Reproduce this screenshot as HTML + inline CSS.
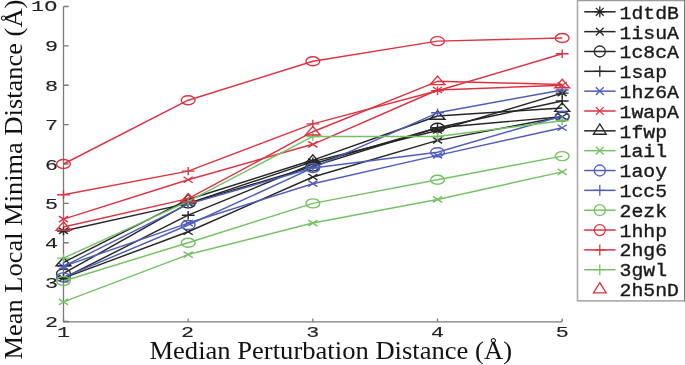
<!DOCTYPE html>
<html><head><meta charset="utf-8"><style>
html,body{margin:0;padding:0;background:#fff;width:685px;height:365px;overflow:hidden}
svg{display:block;filter:blur(0.3px)}
text{font-family:"Liberation Serif",serif}
.m{font-family:"Liberation Mono",monospace}
</style></head><body>
<svg width="685" height="365" viewBox="0 0 685 365">
<rect width="685" height="365" fill="#fff"/>

<path d="M63.5 6.5V321.8H562.2" stroke="#7a7a7a" stroke-width="1.3" fill="none"/>
<path d="M63.5 321.50H68.7M63.5 282.12H68.7M63.5 242.75H68.7M63.5 203.38H68.7M63.5 164.00H68.7M63.5 124.62H68.7M63.5 85.25H68.7M63.5 45.88H68.7M63.5 6.50H68.7M63.50 321.8V318.6M188.18 321.8V318.6M312.85 321.8V318.6M437.52 321.8V318.6M562.20 321.8V318.6" stroke="#7a7a7a" stroke-width="1.3" fill="none"/>
<text class="m" transform="translate(58.0 327.10) scale(1.42 1)" font-size="15.3" text-anchor="end" fill="#222" stroke="#222" stroke-width="0.15">2</text>
<text class="m" transform="translate(58.0 287.73) scale(1.42 1)" font-size="15.3" text-anchor="end" fill="#222" stroke="#222" stroke-width="0.15">3</text>
<text class="m" transform="translate(58.0 248.35) scale(1.42 1)" font-size="15.3" text-anchor="end" fill="#222" stroke="#222" stroke-width="0.15">4</text>
<text class="m" transform="translate(58.0 208.97) scale(1.42 1)" font-size="15.3" text-anchor="end" fill="#222" stroke="#222" stroke-width="0.15">5</text>
<text class="m" transform="translate(58.0 169.60) scale(1.42 1)" font-size="15.3" text-anchor="end" fill="#222" stroke="#222" stroke-width="0.15">6</text>
<text class="m" transform="translate(58.0 130.22) scale(1.42 1)" font-size="15.3" text-anchor="end" fill="#222" stroke="#222" stroke-width="0.15">7</text>
<text class="m" transform="translate(58.0 90.85) scale(1.42 1)" font-size="15.3" text-anchor="end" fill="#222" stroke="#222" stroke-width="0.15">8</text>
<text class="m" transform="translate(58.0 51.48) scale(1.42 1)" font-size="15.3" text-anchor="end" fill="#222" stroke="#222" stroke-width="0.15">9</text>
<text class="m" transform="translate(57.4 10.80) scale(1.42 1)" font-size="15.3" text-anchor="end" fill="#222" stroke="#222" stroke-width="0.15">1<tspan dx="0.3">O</tspan></text>
<text class="m" transform="translate(63.50 337.3) scale(1.42 1)" font-size="15.3" text-anchor="middle" fill="#222" stroke="#222" stroke-width="0.15">1</text>
<text class="m" transform="translate(187.38 337.3) scale(1.42 1)" font-size="15.3" text-anchor="middle" fill="#222" stroke="#222" stroke-width="0.15">2</text>
<text class="m" transform="translate(312.85 337.3) scale(1.42 1)" font-size="15.3" text-anchor="middle" fill="#222" stroke="#222" stroke-width="0.15">3</text>
<text class="m" transform="translate(437.52 337.3) scale(1.42 1)" font-size="15.3" text-anchor="middle" fill="#222" stroke="#222" stroke-width="0.15">4</text>
<text class="m" transform="translate(562.20 337.3) scale(1.42 1)" font-size="15.3" text-anchor="middle" fill="#222" stroke="#222" stroke-width="0.15">5</text>
<polyline points="63.50,230.94 188.18,203.38 312.85,161.64 437.52,130.53 562.20,93.12" fill="none" stroke="#262626" stroke-width="1.45" stroke-linejoin="round"/>
<path d="M58.90 227.94L68.10 233.94M58.90 233.94L68.10 227.94M57.10 230.94H69.90M63.50 226.74V235.14" stroke="#262626" stroke-width="1.4" fill="none"/>
<path d="M183.58 200.38L192.78 206.38M183.58 206.38L192.78 200.38M181.78 203.38H194.58M188.18 199.18V207.57" stroke="#262626" stroke-width="1.4" fill="none"/>
<path d="M308.25 158.64L317.45 164.64M308.25 164.64L317.45 158.64M306.45 161.64H319.25M312.85 157.44V165.84" stroke="#262626" stroke-width="1.4" fill="none"/>
<path d="M432.92 127.53L442.12 133.53M432.92 133.53L442.12 127.53M431.12 130.53H443.92M437.52 126.33V134.73" stroke="#262626" stroke-width="1.4" fill="none"/>
<path d="M557.60 90.12L566.80 96.12M557.60 96.12L566.80 90.12M555.80 93.12H568.60M562.20 88.92V97.33" stroke="#262626" stroke-width="1.4" fill="none"/>
<polyline points="63.50,278.19 188.18,231.72 312.85,176.99 437.52,140.38 562.20,116.75" fill="none" stroke="#262626" stroke-width="1.45" stroke-linejoin="round"/>
<path d="M58.90 275.19L68.10 281.19M58.90 281.19L68.10 275.19" stroke="#262626" stroke-width="1.4" fill="none"/>
<path d="M183.58 228.72L192.78 234.72M183.58 234.72L192.78 228.72" stroke="#262626" stroke-width="1.4" fill="none"/>
<path d="M308.25 173.99L317.45 179.99M308.25 179.99L317.45 173.99" stroke="#262626" stroke-width="1.4" fill="none"/>
<path d="M432.92 137.38L442.12 143.38M432.92 143.38L442.12 137.38" stroke="#262626" stroke-width="1.4" fill="none"/>
<path d="M557.60 113.75L566.80 119.75M557.60 119.75L566.80 113.75" stroke="#262626" stroke-width="1.4" fill="none"/>
<polyline points="63.50,273.46 188.18,203.38 312.85,166.36 437.52,127.78 562.20,116.75" fill="none" stroke="#262626" stroke-width="1.45" stroke-linejoin="round"/>
<ellipse cx="63.50" cy="273.46" rx="6.90" ry="4.50" fill="none" stroke="#262626" stroke-width="1.4"/>
<ellipse cx="188.18" cy="203.38" rx="6.90" ry="4.50" fill="none" stroke="#262626" stroke-width="1.4"/>
<ellipse cx="312.85" cy="166.36" rx="6.90" ry="4.50" fill="none" stroke="#262626" stroke-width="1.4"/>
<ellipse cx="437.52" cy="127.78" rx="6.90" ry="4.50" fill="none" stroke="#262626" stroke-width="1.4"/>
<ellipse cx="562.20" cy="116.75" rx="6.90" ry="4.50" fill="none" stroke="#262626" stroke-width="1.4"/>
<polyline points="63.50,278.19 188.18,215.19 312.85,164.00 437.52,127.78 562.20,101.00" fill="none" stroke="#262626" stroke-width="1.45" stroke-linejoin="round"/>
<path d="M57.10 278.19H69.90M63.50 273.99V282.39" stroke="#262626" stroke-width="1.4" fill="none"/>
<path d="M181.78 215.19H194.58M188.18 210.99V219.39" stroke="#262626" stroke-width="1.4" fill="none"/>
<path d="M306.45 164.00H319.25M312.85 159.80V168.20" stroke="#262626" stroke-width="1.4" fill="none"/>
<path d="M431.12 127.78H443.92M437.52 123.58V131.97" stroke="#262626" stroke-width="1.4" fill="none"/>
<path d="M555.80 101.00H568.60M562.20 96.80V105.20" stroke="#262626" stroke-width="1.4" fill="none"/>
<polyline points="63.50,266.38 188.18,223.06 312.85,183.69 437.52,155.34 562.20,127.78" fill="none" stroke="#4e5eb8" stroke-width="1.45" stroke-linejoin="round"/>
<path d="M58.90 263.38L68.10 269.38M58.90 269.38L68.10 263.38" stroke="#4e5eb8" stroke-width="1.4" fill="none"/>
<path d="M183.58 220.06L192.78 226.06M183.58 226.06L192.78 220.06" stroke="#4e5eb8" stroke-width="1.4" fill="none"/>
<path d="M308.25 180.69L317.45 186.69M308.25 186.69L317.45 180.69" stroke="#4e5eb8" stroke-width="1.4" fill="none"/>
<path d="M432.92 152.34L442.12 158.34M432.92 158.34L442.12 152.34" stroke="#4e5eb8" stroke-width="1.4" fill="none"/>
<path d="M557.60 124.78L566.80 130.78M557.60 130.78L566.80 124.78" stroke="#4e5eb8" stroke-width="1.4" fill="none"/>
<polyline points="63.50,219.12 188.18,179.75 312.85,144.31 437.52,89.97 562.20,85.25" fill="none" stroke="#da3442" stroke-width="1.45" stroke-linejoin="round"/>
<path d="M58.90 216.12L68.10 222.12M58.90 222.12L68.10 216.12" stroke="#da3442" stroke-width="1.4" fill="none"/>
<path d="M183.58 176.75L192.78 182.75M183.58 182.75L192.78 176.75" stroke="#da3442" stroke-width="1.4" fill="none"/>
<path d="M308.25 141.31L317.45 147.31M308.25 147.31L317.45 141.31" stroke="#da3442" stroke-width="1.4" fill="none"/>
<path d="M432.92 86.97L442.12 92.97M432.92 92.97L442.12 86.97" stroke="#da3442" stroke-width="1.4" fill="none"/>
<path d="M557.60 82.25L566.80 88.25M557.60 88.25L566.80 82.25" stroke="#da3442" stroke-width="1.4" fill="none"/>
<polyline points="63.50,262.44 188.18,199.44 312.85,160.06 437.52,115.96 562.20,108.09" fill="none" stroke="#262626" stroke-width="1.45" stroke-linejoin="round"/>
<path d="M63.50 257.24L70.90 265.74H56.10Z" stroke="#262626" stroke-width="1.4" fill="none" stroke-linejoin="miter"/>
<path d="M188.18 194.24L195.58 202.74H180.78Z" stroke="#262626" stroke-width="1.4" fill="none" stroke-linejoin="miter"/>
<path d="M312.85 154.86L320.25 163.36H305.45Z" stroke="#262626" stroke-width="1.4" fill="none" stroke-linejoin="miter"/>
<path d="M437.52 110.76L444.92 119.26H430.12Z" stroke="#262626" stroke-width="1.4" fill="none" stroke-linejoin="miter"/>
<path d="M562.20 102.89L569.60 111.39H554.80Z" stroke="#262626" stroke-width="1.4" fill="none" stroke-linejoin="miter"/>
<polyline points="63.50,301.81 188.18,254.56 312.85,223.06 437.52,199.44 562.20,171.88" fill="none" stroke="#74c264" stroke-width="1.45" stroke-linejoin="round"/>
<path d="M58.90 298.81L68.10 304.81M58.90 304.81L68.10 298.81" stroke="#74c264" stroke-width="1.4" fill="none"/>
<path d="M183.58 251.56L192.78 257.56M183.58 257.56L192.78 251.56" stroke="#74c264" stroke-width="1.4" fill="none"/>
<path d="M308.25 220.06L317.45 226.06M308.25 226.06L317.45 220.06" stroke="#74c264" stroke-width="1.4" fill="none"/>
<path d="M432.92 196.44L442.12 202.44M432.92 202.44L442.12 196.44" stroke="#74c264" stroke-width="1.4" fill="none"/>
<path d="M557.60 168.88L566.80 174.88M557.60 174.88L566.80 168.88" stroke="#74c264" stroke-width="1.4" fill="none"/>
<polyline points="63.50,277.40 188.18,225.03 312.85,167.94 437.52,152.19 562.20,115.96" fill="none" stroke="#4e5eb8" stroke-width="1.45" stroke-linejoin="round"/>
<ellipse cx="63.50" cy="277.40" rx="6.90" ry="4.50" fill="none" stroke="#4e5eb8" stroke-width="1.4"/>
<ellipse cx="188.18" cy="225.03" rx="6.90" ry="4.50" fill="none" stroke="#4e5eb8" stroke-width="1.4"/>
<ellipse cx="312.85" cy="167.94" rx="6.90" ry="4.50" fill="none" stroke="#4e5eb8" stroke-width="1.4"/>
<ellipse cx="437.52" cy="152.19" rx="6.90" ry="4.50" fill="none" stroke="#4e5eb8" stroke-width="1.4"/>
<ellipse cx="562.20" cy="115.96" rx="6.90" ry="4.50" fill="none" stroke="#4e5eb8" stroke-width="1.4"/>
<polyline points="63.50,266.38 188.18,204.16 312.85,167.94 437.52,112.81 562.20,89.97" fill="none" stroke="#4e5eb8" stroke-width="1.45" stroke-linejoin="round"/>
<path d="M57.10 266.38H69.90M63.50 262.18V270.57" stroke="#4e5eb8" stroke-width="1.4" fill="none"/>
<path d="M181.78 204.16H194.58M188.18 199.96V208.36" stroke="#4e5eb8" stroke-width="1.4" fill="none"/>
<path d="M306.45 167.94H319.25M312.85 163.74V172.14" stroke="#4e5eb8" stroke-width="1.4" fill="none"/>
<path d="M431.12 112.81H443.92M437.52 108.61V117.01" stroke="#4e5eb8" stroke-width="1.4" fill="none"/>
<path d="M555.80 89.97H568.60M562.20 85.77V94.17" stroke="#4e5eb8" stroke-width="1.4" fill="none"/>
<polyline points="63.50,280.94 188.18,242.75 312.85,203.38 437.52,179.75 562.20,156.12" fill="none" stroke="#74c264" stroke-width="1.45" stroke-linejoin="round"/>
<ellipse cx="63.50" cy="280.94" rx="6.90" ry="4.50" fill="none" stroke="#74c264" stroke-width="1.4"/>
<ellipse cx="188.18" cy="242.75" rx="6.90" ry="4.50" fill="none" stroke="#74c264" stroke-width="1.4"/>
<ellipse cx="312.85" cy="203.38" rx="6.90" ry="4.50" fill="none" stroke="#74c264" stroke-width="1.4"/>
<ellipse cx="437.52" cy="179.75" rx="6.90" ry="4.50" fill="none" stroke="#74c264" stroke-width="1.4"/>
<ellipse cx="562.20" cy="156.12" rx="6.90" ry="4.50" fill="none" stroke="#74c264" stroke-width="1.4"/>
<polyline points="63.50,164.00 188.18,100.21 312.85,61.23 437.52,41.15 562.20,38.00" fill="none" stroke="#da3442" stroke-width="1.45" stroke-linejoin="round"/>
<ellipse cx="63.50" cy="164.00" rx="6.90" ry="4.50" fill="none" stroke="#da3442" stroke-width="1.4"/>
<ellipse cx="188.18" cy="100.21" rx="6.90" ry="4.50" fill="none" stroke="#da3442" stroke-width="1.4"/>
<ellipse cx="312.85" cy="61.23" rx="6.90" ry="4.50" fill="none" stroke="#da3442" stroke-width="1.4"/>
<ellipse cx="437.52" cy="41.15" rx="6.90" ry="4.50" fill="none" stroke="#da3442" stroke-width="1.4"/>
<ellipse cx="562.20" cy="38.00" rx="6.90" ry="4.50" fill="none" stroke="#da3442" stroke-width="1.4"/>
<polyline points="63.50,194.71 188.18,171.09 312.85,123.84 437.52,90.76 562.20,53.75" fill="none" stroke="#da3442" stroke-width="1.45" stroke-linejoin="round"/>
<path d="M57.10 194.71H69.90M63.50 190.51V198.91" stroke="#da3442" stroke-width="1.4" fill="none"/>
<path d="M181.78 171.09H194.58M188.18 166.89V175.29" stroke="#da3442" stroke-width="1.4" fill="none"/>
<path d="M306.45 123.84H319.25M312.85 119.64V128.04" stroke="#da3442" stroke-width="1.4" fill="none"/>
<path d="M431.12 90.76H443.92M437.52 86.56V94.96" stroke="#da3442" stroke-width="1.4" fill="none"/>
<path d="M555.80 53.75H568.60M562.20 49.55V57.95" stroke="#da3442" stroke-width="1.4" fill="none"/>
<polyline points="63.50,258.11 188.18,201.41 312.85,136.44 437.52,136.44 562.20,120.69" fill="none" stroke="#74c264" stroke-width="1.45" stroke-linejoin="round"/>
<path d="M57.10 258.11H69.90M63.50 253.91V262.31" stroke="#74c264" stroke-width="1.4" fill="none"/>
<path d="M181.78 201.41H194.58M188.18 197.21V205.61" stroke="#74c264" stroke-width="1.4" fill="none"/>
<path d="M306.45 136.44H319.25M312.85 132.24V140.64" stroke="#74c264" stroke-width="1.4" fill="none"/>
<path d="M431.12 136.44H443.92M437.52 132.24V140.64" stroke="#74c264" stroke-width="1.4" fill="none"/>
<path d="M555.80 120.69H568.60M562.20 116.49V124.89" stroke="#74c264" stroke-width="1.4" fill="none"/>
<polyline points="63.50,227.00 188.18,198.65 312.85,131.71 437.52,81.31 562.20,84.46" fill="none" stroke="#da3442" stroke-width="1.45" stroke-linejoin="round"/>
<path d="M63.50 221.80L70.90 230.30H56.10Z" stroke="#da3442" stroke-width="1.4" fill="none" stroke-linejoin="miter"/>
<path d="M188.18 193.45L195.58 201.95H180.78Z" stroke="#da3442" stroke-width="1.4" fill="none" stroke-linejoin="miter"/>
<path d="M312.85 126.51L320.25 135.01H305.45Z" stroke="#da3442" stroke-width="1.4" fill="none" stroke-linejoin="miter"/>
<path d="M437.52 76.11L444.92 84.61H430.12Z" stroke="#da3442" stroke-width="1.4" fill="none" stroke-linejoin="miter"/>
<path d="M562.20 79.26L569.60 87.76H554.80Z" stroke="#da3442" stroke-width="1.4" fill="none" stroke-linejoin="miter"/>
<text x="149.4" y="358.7" font-size="25.3" textLength="362.6" lengthAdjust="spacingAndGlyphs" fill="#111">Median Perturbation Distance (Å)</text>
<text transform="translate(22.2 359.5) rotate(-90)" font-size="25.8" textLength="359.8" lengthAdjust="spacingAndGlyphs" fill="#111">Mean Local Minima Distance (Å)</text>
<rect x="577.5" y="0.6" width="107" height="300.2" fill="#fff"/>
<path d="M577.5 0.6H684.4" stroke="#9a9a9a" stroke-width="1.4"/>
<path d="M577.5 0V300.8H684" stroke="#b0b0b0" stroke-width="1.7" fill="none"/>
<path d="M684.6 0V301.6" stroke="#727272" stroke-width="1.1"/>
<path d="M584.2 11.80H615.6" stroke="#262626" stroke-width="1.5"/>
<path d="M595.9 7.90L603.6999999999999 15.70M595.9 15.70L603.6999999999999 7.90M594.3 11.80H605.3M599.8 6.30V17.30" stroke="#262626" stroke-width="1.3" fill="none"/>
<text class="m" transform="translate(619.6 18.90) scale(1.1 1)" font-size="18" fill="#1a1a1a" stroke="#1a1a1a" stroke-width="0.35">1dtdB</text>
<path d="M584.2 31.64H615.6" stroke="#262626" stroke-width="1.5"/>
<path d="M595.9 27.74L603.6999999999999 35.54M595.9 35.54L603.6999999999999 27.74" stroke="#262626" stroke-width="1.3" fill="none"/>
<text class="m" transform="translate(619.6 38.69) scale(1.1 1)" font-size="18" fill="#1a1a1a" stroke="#1a1a1a" stroke-width="0.35">1isuA</text>
<path d="M584.2 51.48H615.6" stroke="#262626" stroke-width="1.5"/>
<circle cx="599.8" cy="51.48" r="5.5" fill="none" stroke="#262626" stroke-width="1.3"/>
<text class="m" transform="translate(619.6 58.48) scale(1.1 1)" font-size="18" fill="#1a1a1a" stroke="#1a1a1a" stroke-width="0.35">1c8cA</text>
<path d="M584.2 71.32H615.6" stroke="#262626" stroke-width="1.5"/>
<path d="M594.3 71.32H605.3M599.8 65.82V76.82" stroke="#262626" stroke-width="1.3" fill="none"/>
<text class="m" transform="translate(619.6 78.27) scale(1.1 1)" font-size="18" fill="#1a1a1a" stroke="#1a1a1a" stroke-width="0.35">1sap</text>
<path d="M584.2 91.16H615.6" stroke="#4e5eb8" stroke-width="1.5"/>
<path d="M595.9 87.26L603.6999999999999 95.06M595.9 95.06L603.6999999999999 87.26" stroke="#4e5eb8" stroke-width="1.3" fill="none"/>
<text class="m" transform="translate(619.6 98.06) scale(1.1 1)" font-size="18" fill="#1a1a1a" stroke="#1a1a1a" stroke-width="0.35">1hz6A</text>
<path d="M584.2 111.00H615.6" stroke="#da3442" stroke-width="1.5"/>
<path d="M595.9 107.10L603.6999999999999 114.90M595.9 114.90L603.6999999999999 107.10" stroke="#da3442" stroke-width="1.3" fill="none"/>
<text class="m" transform="translate(619.6 117.85) scale(1.1 1)" font-size="18" fill="#1a1a1a" stroke="#1a1a1a" stroke-width="0.35">1wapA</text>
<path d="M584.2 130.84H615.6" stroke="#262626" stroke-width="1.5"/>
<path d="M599.8 123.94L606.1999999999999 134.24H593.4Z" stroke="#262626" stroke-width="1.3" fill="none"/>
<text class="m" transform="translate(619.6 137.64) scale(1.1 1)" font-size="18" fill="#1a1a1a" stroke="#1a1a1a" stroke-width="0.35">1fwp</text>
<path d="M584.2 150.68H615.6" stroke="#74c264" stroke-width="1.5"/>
<path d="M595.9 146.78L603.6999999999999 154.58M595.9 154.58L603.6999999999999 146.78" stroke="#74c264" stroke-width="1.3" fill="none"/>
<text class="m" transform="translate(619.6 157.43) scale(1.1 1)" font-size="18" fill="#1a1a1a" stroke="#1a1a1a" stroke-width="0.35">1ail</text>
<path d="M584.2 170.52H615.6" stroke="#4e5eb8" stroke-width="1.5"/>
<circle cx="599.8" cy="170.52" r="5.5" fill="none" stroke="#4e5eb8" stroke-width="1.3"/>
<text class="m" transform="translate(619.6 177.22) scale(1.1 1)" font-size="18" fill="#1a1a1a" stroke="#1a1a1a" stroke-width="0.35">1aoy</text>
<path d="M584.2 190.36H615.6" stroke="#4e5eb8" stroke-width="1.5"/>
<path d="M594.3 190.36H605.3M599.8 184.86V195.86" stroke="#4e5eb8" stroke-width="1.3" fill="none"/>
<text class="m" transform="translate(619.6 197.01) scale(1.1 1)" font-size="18" fill="#1a1a1a" stroke="#1a1a1a" stroke-width="0.35">1cc5</text>
<path d="M584.2 210.20H615.6" stroke="#74c264" stroke-width="1.5"/>
<circle cx="599.8" cy="210.20" r="5.5" fill="none" stroke="#74c264" stroke-width="1.3"/>
<text class="m" transform="translate(619.6 216.80) scale(1.1 1)" font-size="18" fill="#1a1a1a" stroke="#1a1a1a" stroke-width="0.35">2ezk</text>
<path d="M584.2 230.04H615.6" stroke="#da3442" stroke-width="1.5"/>
<circle cx="599.8" cy="230.04" r="5.5" fill="none" stroke="#da3442" stroke-width="1.3"/>
<text class="m" transform="translate(619.6 236.59) scale(1.1 1)" font-size="18" fill="#1a1a1a" stroke="#1a1a1a" stroke-width="0.35">1hhp</text>
<path d="M584.2 249.88H615.6" stroke="#da3442" stroke-width="1.5"/>
<path d="M594.3 249.88H605.3M599.8 244.38V255.38" stroke="#da3442" stroke-width="1.3" fill="none"/>
<text class="m" transform="translate(619.6 256.38) scale(1.1 1)" font-size="18" fill="#1a1a1a" stroke="#1a1a1a" stroke-width="0.35">2hg6</text>
<path d="M584.2 269.72H615.6" stroke="#74c264" stroke-width="1.5"/>
<path d="M594.3 269.72H605.3M599.8 264.22V275.22" stroke="#74c264" stroke-width="1.3" fill="none"/>
<text class="m" transform="translate(619.6 276.17) scale(1.1 1)" font-size="18" fill="#1a1a1a" stroke="#1a1a1a" stroke-width="0.35">3gwl</text>
<path d="M599.8 282.66L606.1999999999999 292.96H593.4Z" stroke="#da3442" stroke-width="1.3" fill="none"/>
<text class="m" transform="translate(619.6 295.96) scale(1.1 1)" font-size="18" fill="#1a1a1a" stroke="#1a1a1a" stroke-width="0.35">2h5nD</text>
</svg></body></html>
